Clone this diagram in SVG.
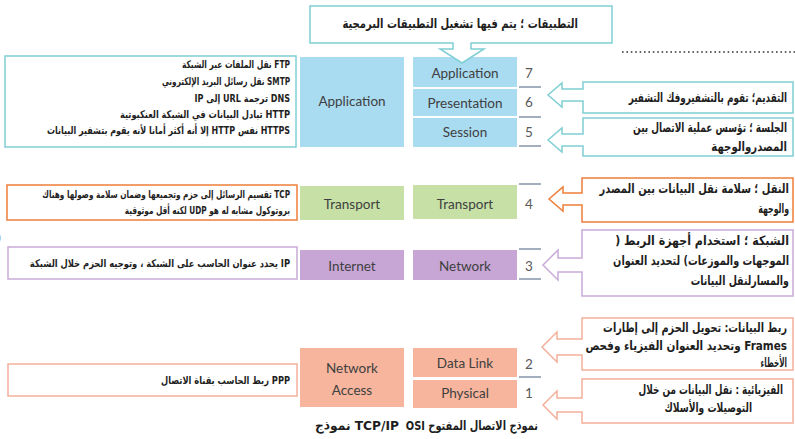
<svg xmlns="http://www.w3.org/2000/svg" width="795" height="439" viewBox="0 0 795 439">
<style>
.lbl{font-family:Lato,"Liberation Sans",sans-serif;font-size:13.5px;fill:#404040;text-anchor:middle}
.num{font-family:Lato,"Liberation Sans",sans-serif;font-size:13.5px;fill:#595959;text-anchor:middle}
.ar{font-family:"DejaVu Sans",sans-serif;font-weight:bold;fill:#1e1e1e;direction:rtl;text-anchor:start}
.s9{font-size:10.5px}
.s12{font-size:13px}
.blue{fill:#a9dbf1}
.green{fill:#c6e0a6}
.purple{fill:#c7a6d5}
.salmon{fill:#f6b59c}
.cT{fill:#fff;stroke:#80cfd4;stroke-width:1.5}
.cO{fill:#fff;stroke:#ee7f3b;stroke-width:1.5}
.cP{fill:#fff;stroke:#c9abd8;stroke-width:1.5}
.cS{fill:#fff;stroke:#f3b09a;stroke-width:1.5}
.sep{stroke:#8595aa;stroke-width:1.5}
</style>

<!-- TCP/IP column -->
<g id="tcp-application"><rect class="blue" x="300" y="57" width="104" height="90"/><text class="lbl" x="352" y="106">Application</text></g>
<g id="tcp-transport"><rect class="green" x="300" y="186" width="104" height="34"/><text class="lbl" x="352" y="209">Transport</text></g>
<g id="tcp-internet"><rect class="purple" x="300" y="250" width="104" height="30"/><text class="lbl" x="352" y="271">Internet</text></g>
<g id="tcp-netaccess"><rect class="salmon" x="300" y="348" width="104" height="59"/><text class="lbl" x="352" y="373">Network</text><text class="lbl" x="352" y="395">Access</text></g>

<!-- OSI column -->
<g id="osi-application"><rect class="blue" x="413" y="57" width="104" height="30"/><text class="lbl" x="465" y="78">Application</text></g>
<g id="osi-presentation"><rect class="blue" x="413" y="89" width="104" height="27"/><text class="lbl" x="465" y="108">Presentation</text></g>
<g id="osi-session"><rect class="blue" x="413" y="118" width="104" height="29"/><text class="lbl" x="465" y="137">Session</text></g>
<g id="osi-transport"><rect class="green" x="413" y="185" width="104" height="34"/><text class="lbl" x="465" y="209">Transport</text></g>
<g id="osi-network"><rect class="purple" x="413" y="250" width="104" height="30"/><text class="lbl" x="465" y="271">Network</text></g>
<g id="osi-datalink"><rect class="salmon" x="413" y="348" width="104" height="29"/><text class="lbl" x="465" y="368">Data Link</text></g>
<g id="osi-physical"><rect class="salmon" x="413" y="380" width="104" height="28"/><text class="lbl" x="465" y="398">Physical</text></g>

<!-- layer numbers -->
<g id="numbers">
<text class="num" x="529" y="78">7</text>
<text class="num" x="529" y="107">6</text>
<text class="num" x="529" y="137">5</text>
<text class="num" x="529" y="209">4</text>
<text class="num" x="529" y="271">3</text>
<text class="num" x="529" y="369">2</text>
<text class="num" x="529" y="398">1</text>
<line class="sep" x1="519" y1="87" x2="541" y2="87"/>
<line class="sep" x1="519" y1="117" x2="541" y2="117"/>
<line class="sep" x1="519" y1="146" x2="541" y2="146"/>
<line class="sep" x1="519" y1="184" x2="541" y2="184"/>
<line class="sep" x1="519" y1="249" x2="541" y2="249"/>
<line class="sep" x1="519" y1="279" x2="541" y2="279"/>
<line class="sep" x1="519" y1="377" x2="541" y2="377"/>
</g>

<!-- left protocol boxes -->
<g id="protocols-app">
<rect x="5" y="56" width="291" height="91" fill="#fff" stroke="#80cfd4" stroke-width="1.5"/>
<text class="ar s9" transform="translate(290,68) scale(0.715,1)">FTP نقل الملفات عبر الشبكة</text>
<text class="ar s9" transform="translate(290,85) scale(0.697,1)">SMTP نقل رسائل البريد الإلكتروني</text>
<text class="ar s9" transform="translate(290,102) scale(0.769,1)">DNS ترجمة URL إلى IP</text>
<text class="ar s9" transform="translate(290,118) scale(0.787,1)">HTTP تبادل البيانات في الشبكة العنكبوتية</text>
<text class="ar s9" transform="translate(290,134) scale(0.76,1)">HTTPS نفس HTTP إلا أنه أكثر أمانا لأنه يقوم بتشفير البيانات</text>
</g>
<g id="protocols-transport">
<rect x="7" y="185" width="290" height="35" fill="#fff" stroke="#ee7f3b" stroke-width="1.5"/>
<text class="ar s9" transform="translate(290,198) scale(0.697,1)">TCP تقسيم الرسائل إلى حزم وتجميعها وضمان سلامة وصولها وهناك</text>
<text class="ar s9" transform="translate(290,214) scale(0.697,1)">بروتوكول مشابه له هو UDP لكنه أقل موثوقية</text>
</g>
<g id="protocols-internet">
<rect x="8" y="247" width="289" height="32" fill="#fff" stroke="#c9abd8" stroke-width="1.5"/>
<text class="ar s9" transform="translate(290,267) scale(0.796,1)">IP يحدد عنوان الحاسب على الشبكة ، وتوجيه الحزم خلال الشبكة</text>
</g>
<g id="protocols-netaccess">
<rect x="8" y="364" width="289" height="32" fill="#fff" stroke="#f3b09a" stroke-width="1.5"/>
<text class="ar s9" transform="translate(290,384) scale(0.787,1)">PPP ربط الحاسب بقناة الاتصال</text>
</g>

<!-- callouts -->
<g id="callout-application">
<path class="cT" d="M310,6 H612 V43 H471 V49 H484 L462,63 L440,49 H453 V43 H310 Z"/>
<text class="ar s12" transform="translate(578,28) scale(0.77,1)">التطبيقات ؛ يتم فيها تشغيل التطبيقات البرمجية</text>
</g>
<g id="callout-presentation">
<path class="cT" d="M583,82 H793 V113 H583 V101 H562 V107 L548,95 L562,83 V89 H583 Z"/>
<text class="ar s12" transform="translate(787,102) scale(0.682,1)">التقديم؛ تقوم بالتشفيروفك التشفير</text>
</g>
<g id="callout-session">
<path class="cT" d="M583,118 H793 V156 H583 V146 H562 V152 L548,140 L562,128 V134 H583 Z"/>
<text class="ar s12" transform="translate(787,132) scale(0.691,1)">الجلسة ؛ تؤسس عملية الاتصال بين</text>
<text class="ar s12" transform="translate(787,151) scale(0.779,1)">المصدروالوجهة</text>
</g>
<g id="callout-transport">
<path class="cO" d="M582,178 H793 V222 H582 V205 H563 V211 L549,199 L563,187 V193 H582 Z"/>
<text class="ar s12" transform="translate(789,193) scale(0.765,1)">النقل ؛ سلامة نقل البيانات بين المصدر</text>
<text class="ar s12" transform="translate(789,213) scale(0.6,1)">والوجهة</text>
</g>
<g id="callout-network">
<path class="cP" d="M582,230 H793 V296 H582 V272 H558 V280 L543,265 L558,250 V258 H582 Z"/>
<text class="ar s12" transform="translate(789,245) scale(0.849,1)">الشبكة ؛ استخدام أجهزة الربط (</text>
<text class="ar s12" transform="translate(789,265) scale(0.748,1)">الموجهات والموزعات) لتحديد العنوان</text>
<text class="ar s12" transform="translate(789,285) scale(0.729,1)">والمسارلنقل البيانات</text>
</g>
<g id="callout-datalink">
<path class="cS" d="M582,318 H793 V370 H582 V355 H557 V362 L542,347 L557,332 V339 H582 Z"/>
<text class="ar s12" transform="translate(787,332) scale(0.748,1)">ربط البيانات: تحويل الحزم إلى إطارات</text>
<text class="ar s12" transform="translate(787,350) scale(0.803,1)">Frames وتحديد العنوان الفيزياء وفحص</text>
<text class="ar s12" transform="translate(787,367) scale(0.554,1)">الأخطاء</text>
</g>
<g id="callout-physical">
<path class="cS" d="M582,379 H793 V423 H582 V412 H557 V419 L543,405 L557,391 V398 H582 Z"/>
<text class="ar s12" transform="translate(783,394) scale(0.683,1)">الفيزيائية : نقل البيانات من خلال</text>
<text class="ar s12" transform="translate(752,412) scale(0.701,1)">التوصيلات والأسلاك</text>
</g>

<!-- model captions -->
<g id="caption-tcpip"><text class="ar s12" transform="translate(357,430) scale(0.94,1)" style="direction:ltr;text-anchor:middle">نموذج TCP/IP</text></g>
<g id="caption-osi"><text class="ar s12" transform="translate(538,430) scale(0.757,1)">نموذج الاتصال المفتوح OSI</text></g>

<g id="connectors">
<line x1="622" y1="52" x2="795" y2="52" stroke="#333" stroke-width="1.6" stroke-dasharray="1.6 2.8"/>
</g>
<text x="-3" y="241" font-family="Liberation Sans,sans-serif" font-size="12" fill="#555">)</text>
</svg>
